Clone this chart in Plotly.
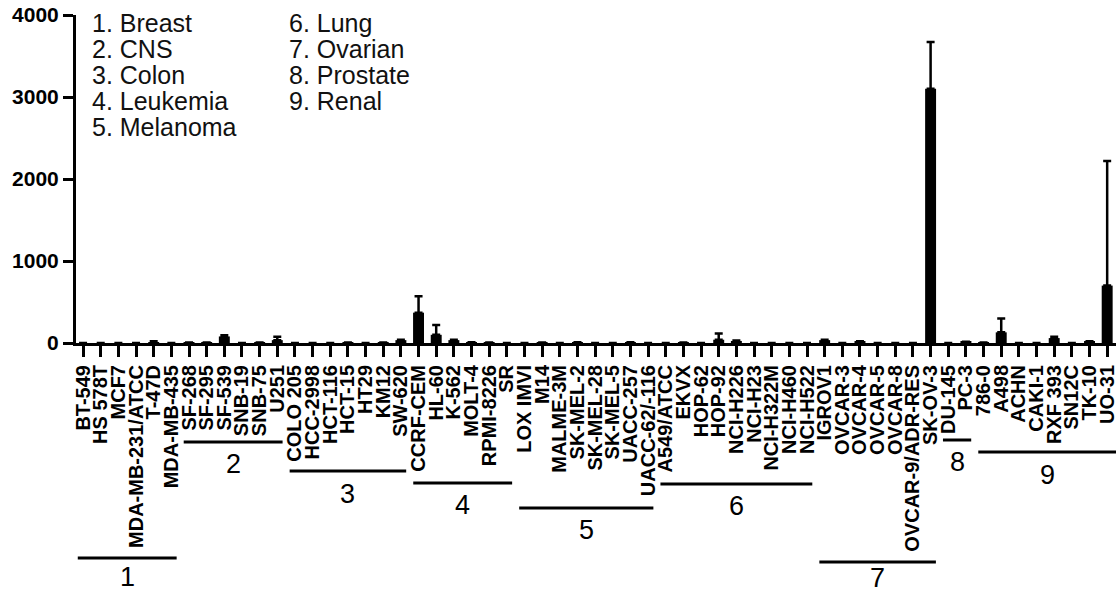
import plotly.graph_objects as go

# ---------------- data ----------------
group_names = ["Breast", "CNS", "Colon", "Leukemia", "Melanoma", "Lung", "Ovarian", "Prostate", "Renal"]

breast = ["BT-549", "HS 578T", "MCF7", "MDA-MB-231/ATCC", "T-47D", "MDA-MB-435"]
cns = ["SF-268", "SF-295", "SF-539", "SNB-19", "SNB-75", "U251"]
colon = ["COLO 205", "HCC-2998", "HCT-116", "HCT-15", "HT29", "KM12", "SW-620"]
leukemia = ["CCRF-CEM", "HL-60", "K-562", "MOLT-4", "RPMI-8226", "SR"]
melanoma = ["LOX IMVI", "M14", "MALME-3M", "SK-MEL-2", "SK-MEL-28", "SK-MEL-5", "UACC-257", "UACC-62/-116"]
lung = ["A549/ATCC", "EKVX", "HOP-62", "HOP-92", "NCI-H226", "NCI-H23", "NCI-H322M", "NCI-H460", "NCI-H522"]
ovarian = ["IGROV1", "OVCAR-3", "OVCAR-4", "OVCAR-5", "OVCAR-8", "OVCAR-9/ADR-RES", "SK-OV-3"]
prostate = ["DU-145", "PC-3"]
renal = ["786-0", "A498", "ACHN", "CAKI-1", "RXF 393", "SN12C", "TK-10", "UO-31"]

breast_val = [0, 0, 0, 0, 10, 0]
breast_err = [0, 0, 0, 0, 10, 0]
cns_val = [5, 5, 80, 0, 5, 35]
cns_err = [0, 0, 15, 0, 0, 40]
colon_val = [0, 0, 0, 5, 0, 5, 35]
colon_err = [0, 0, 0, 0, 0, 0, 5]
leukemia_val = [370, 100, 35, 8, 5, 0]
leukemia_err = [200, 120, 5, 0, 0, 0]
melanoma_val = [0, 5, 0, 8, 0, 0, 8, 0]
melanoma_err = [0, 0, 0, 0, 0, 0, 0, 0]
lung_val = [0, 5, 0, 40, 25, 0, 0, 0, 0]
lung_err = [0, 0, 0, 75, 5, 0, 0, 0, 0]
ovarian_val = [35, 0, 20, 0, 0, 0, 3100]
ovarian_err = [5, 0, 0, 0, 0, 0, 570]
prostate_val = [0, 15]
prostate_err = [0, 0]
renal_val = [5, 130, 0, 0, 60, 0, 20, 700]
renal_err = [0, 170, 0, 0, 15, 0, 0, 1520]

y_ticks = [0, 1000, 2000, 3000, 4000]

# ---------------- assemble ----------------
groups = [breast, cns, colon, leukemia, melanoma, lung, ovarian, prostate, renal]
vals = [breast_val, cns_val, colon_val, leukemia_val, melanoma_val, lung_val, ovarian_val, prostate_val, renal_val]
errs = [breast_err, cns_err, colon_err, leukemia_err, melanoma_err, lung_err, ovarian_err, prostate_err, renal_err]

labels, values, errors = [], [], []
for g, v, e in zip(groups, vals, errs):
    labels += g
    values += v
    errors += e
xs = list(range(len(labels)))

FONT = "Liberation Sans, Arial, sans-serif"
W, H = 1118, 595
L, R, T, B = 76, 0, 15, 252
plot_h = H - T - B
plot_w = W - L - R
BASE = H - B                # page y of the zero line


def py(page_y):
    """page pixel y -> paper coordinate"""
    return (BASE - page_y) / plot_h


def px(page_x):
    return (page_x - L) / plot_w


fig = go.Figure()
fig.add_trace(go.Bar(
    x=xs, y=values, width=0.62,
    marker=dict(color="black", line=dict(width=0)),
    error_y=dict(type="data", symmetric=False, array=errors, arrayminus=[0] * len(errors),
                 color="black", thickness=2.5, width=4),
    showlegend=False, hoverinfo="skip",
))

# group brackets (layout: page y of the line and of the number for each group)
bracket_y_px = [558, 442, 471, 483, 508, 484, 562, 440, 452]
number_y_px = [577, 464, 494, 505, 530, 506, 578, 462, 475]
shapes, annotations = [], []
start = 0
for gi, g in enumerate(groups):
    end = start + len(g) - 1
    x0 = start - 0.3
    x1 = end + 0.3 if gi < len(groups) - 1 else end + 0.5
    shapes.append(dict(type="line", xref="x", yref="paper", x0=x0, x1=x1,
                       y0=py(bracket_y_px[gi]), y1=py(bracket_y_px[gi]),
                       line=dict(color="black", width=3)))
    annotations.append(dict(x=(x0 + x1) / 2, y=py(number_y_px[gi]), xref="x", yref="paper",
                            text=str(gi + 1), showarrow=False, xanchor="center", yanchor="middle",
                            font=dict(family=FONT, size=27, color="black")))
    start = end + 1

# category legend text (one annotation per line)
for i, n in enumerate(group_names):
    col, row = divmod(i, 5)
    annotations.append(dict(x=px(90 if col == 0 else 287), y=py(23 + 26 * row), xref="paper", yref="paper",
                            text=f"{i + 1}. {n}", showarrow=False, xanchor="left", yanchor="middle",
                            font=dict(family=FONT, size=25, color="#111")))

fig.update_layout(
    width=W, height=H,
    margin=dict(l=L, r=R, t=T, b=B),
    plot_bgcolor="white", paper_bgcolor="white",
    shapes=shapes, annotations=annotations,
)
fig.update_xaxes(
    range=[-0.4, len(labels) - 0.5],
    tickmode="array", tickvals=xs, ticktext=labels, tickangle=-90,
    ticks="outside", ticklen=11, tickwidth=2.5, tickcolor="black",
    tickfont=dict(family=FONT, size=20, color="black", weight="bold"),
    ticklabeloverflow="allow",
    showline=True, linewidth=3, linecolor="black", showgrid=False, zeroline=False,
)
fig.update_yaxes(
    range=[0, 4000], tickmode="array", tickvals=y_ticks,
    ticks="outside", ticklen=10, tickwidth=2.5, tickcolor="black",
    tickfont=dict(family=FONT, size=21, color="black", weight="bold"),
    ticklabeloverflow="allow",
    showline=True, linewidth=3, linecolor="black", showgrid=False, zeroline=False,
)

fig.write_html(
    "out.html",
    config={"displayModeBar": False},
    post_script="document.body.style.margin='0';document.body.style.overflow='hidden';",
)
